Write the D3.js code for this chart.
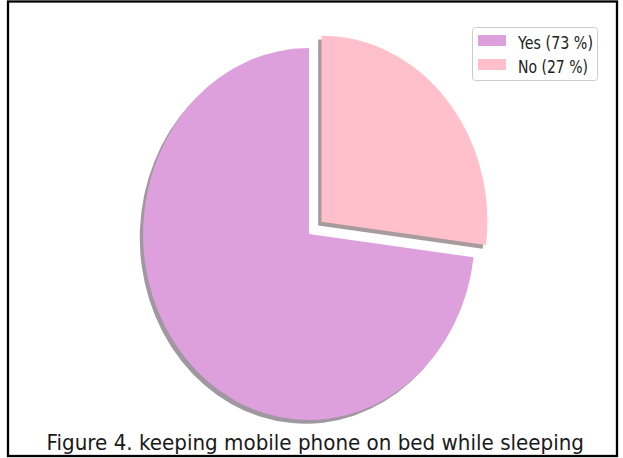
<!DOCTYPE html>
<html>
<head>
<meta charset="utf-8">
<script src="https://cdn.jsdelivr.net/npm/d3@7"></script>
<style>
  html, body { margin: 0; padding: 0; background: #fff; }
  svg { display: block; }
  text { font-family: "DejaVu Sans", sans-serif; }
</style>
</head>
<body>
<svg id="chart" width="623" height="458"></svg>
<script>
// Answers to "keeping mobile phone on bed while sleeping"
const categories = ["Yes", "No"];
const values = [73, 27];
const legendLabels = ["Yes (73 %)", "No (27 %)"];
const colors = ["#DDA0DD", "#FFC0CB"];
const explode = [0, 0.1];
const caption = "Figure 4. keeping mobile phone on bed while sleeping";

const svg = d3.select("#chart");
const W = 623, H = 458;

svg.append("rect").attr("width", W).attr("height", H).attr("fill", "#fff");

const defs = svg.append("defs");
defs.append("filter").attr("id", "soft")
  .attr("x", "-10%").attr("y", "-10%").attr("width", "120%").attr("height", "120%")
  .append("feGaussianBlur").attr("stdDeviation", 0.7);

// Pie geometry (the figure is slightly narrower than tall)
const cx = 309, cy = 234, R = 186, sx = 0.892;

const pie = d3.pie().sort(null).value(d => d)
  .startAngle(0).endAngle(-2 * Math.PI); // counter-clockwise from 12 o'clock
const arcs = pie(values);
const arc = d3.arc().innerRadius(0).outerRadius(R);

const g = svg.append("g")
  .attr("transform", `translate(${cx},${cy}) scale(${sx},1)`);

function offset(d, i) {
  const mid = (d.startAngle + d.endAngle) / 2;
  const r = explode[i] * R;
  return [Math.sin(mid) * r, -Math.cos(mid) * r];
}

// drop shadows beneath the wedges
const sh = 0.02 * R;
g.append("g").attr("filter", "url(#soft)")
  .selectAll("path.shadow").data(arcs).enter().append("path")
  .attr("class", "shadow")
  .attr("d", arc)
  .attr("transform", (d, i) => {
    const [ox, oy] = offset(d, i);
    return `translate(${ox - sh},${oy + sh})`;
  })
  .attr("fill", (d, i) => {
    const c = d3.rgb(colors[i]);
    return d3.rgb(c.r * 0.3, c.g * 0.3, c.b * 0.3).toString();
  })
  .attr("fill-opacity", 0.5);

g.selectAll("path.wedge").data(arcs).enter().append("path")
  .attr("class", "wedge")
  .attr("d", arc)
  .attr("transform", (d, i) => {
    const [ox, oy] = offset(d, i);
    return `translate(${ox},${oy})`;
  })
  .attr("fill", (d, i) => colors[i]);

// Legend
const lg = svg.append("g").attr("transform", "translate(472,27)");
lg.append("rect")
  .attr("x", 0.5).attr("y", 0.5).attr("width", 125).attr("height", 53)
  .attr("rx", 3).attr("fill", "#fff").attr("fill-opacity", 0.8)
  .attr("stroke", "#cccccc").attr("stroke-width", 1);

const rowY = d3.scaleBand().domain(categories).range([4, 52]).paddingInner(0);
const textWidths = [75, 70];
const items = lg.selectAll("g.item").data(categories).enter().append("g")
  .attr("class", "item")
  .attr("transform", d => `translate(0,${rowY(d)})`);
items.append("rect")
  .attr("x", 6).attr("y", 4).attr("width", 28).attr("height", 11)
  .attr("fill", (d, i) => colors[i]);
items.append("text")
  .attr("x", 46).attr("y", 17.5)
  .attr("font-size", 17.5)
  .attr("fill", "#222")
  .attr("textLength", (d, i) => textWidths[i])
  .attr("lengthAdjust", "spacingAndGlyphs")
  .text((d, i) => legendLabels[i]);

// Caption, sitting just above the bottom of the frame
svg.append("text")
  .attr("x", 46.5).attr("y", 449.5)
  .attr("font-size", 21)
  .attr("fill", "#1a1a1a")
  .attr("textLength", 537.5)
  .attr("lengthAdjust", "spacingAndGlyphs")
  .text(caption);

// Outer frame
svg.append("rect")
  .attr("x", 8).attr("y", 1.5).attr("width", 609).attr("height", 454.5)
  .attr("fill", "none").attr("stroke", "#000").attr("stroke-width", 2.3);
</script>
</body>
</html>
